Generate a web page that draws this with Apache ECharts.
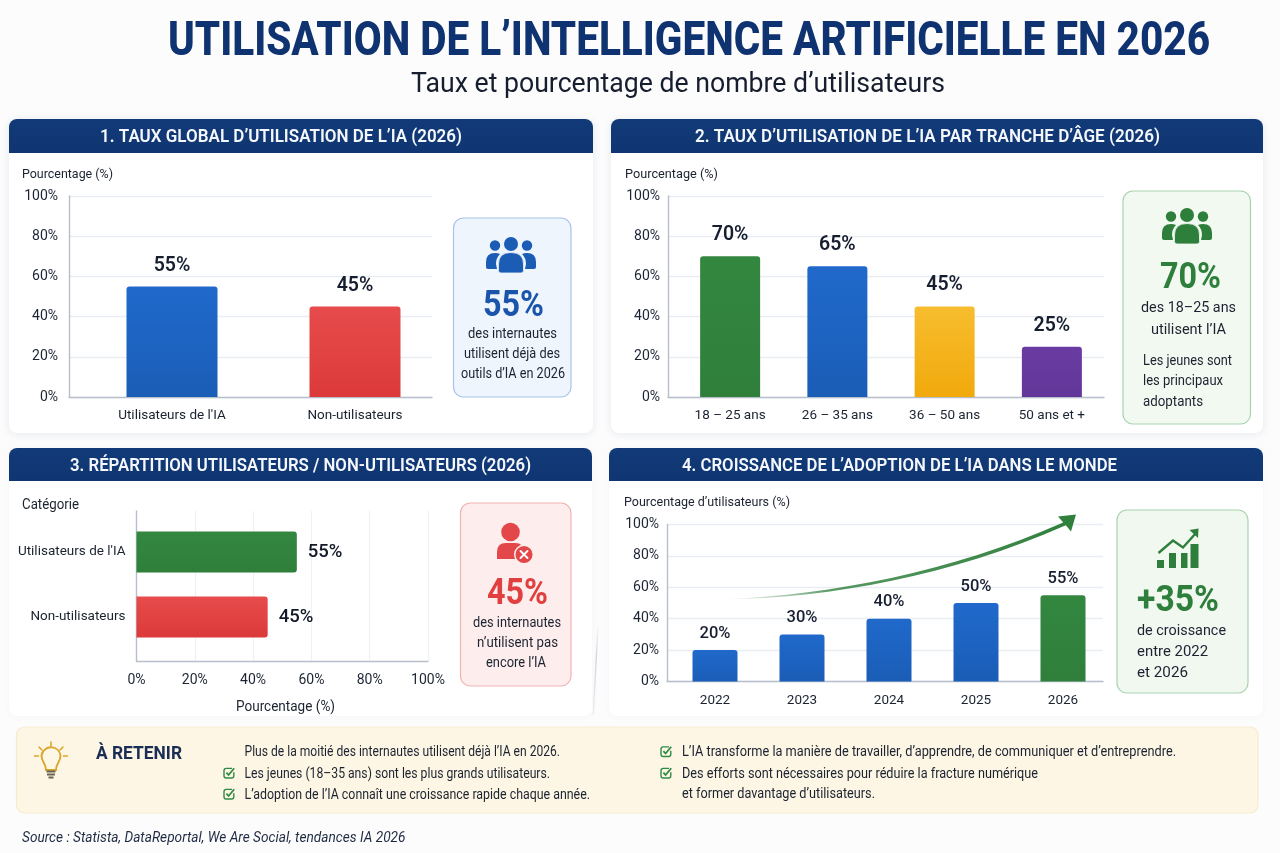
<!DOCTYPE html>
<html lang="fr">
<head>
<meta charset="utf-8">
<title>Utilisation de l'intelligence artificielle en 2026</title>
<script src="https://cdn.jsdelivr.net/npm/echarts@6/dist/echarts.min.js"></script>
<style>
  html, body { margin: 0; padding: 0; background: #fcfcfd; }
  #board { width: 1280px; height: 853px; }
</style>
</head>
<body>
<div id="board"></div>
<script>
// Panel 1: overall usage
const globalCategories = ["Utilisateurs de l'IA", "Non-utilisateurs"];
const globalValues = [55, 45];
// Panel 2: usage by age group
const ageCategories = ["18 – 25 ans", "26 – 35 ans", "36 – 50 ans", "50 ans et +"];
const ageValues = [70, 65, 45, 25];
// Panel 3: users / non-users split
const splitCategories = ["Utilisateurs de l'IA", "Non-utilisateurs"];
const splitValues = [55, 45];
// Panel 4: worldwide growth
const growthYears = ["2022", "2023", "2024", "2025", "2026"];
const growthValues = [20, 30, 40, 50, 55];

const FONT = "Roboto, 'Noto Sans', sans-serif";
const NAVY = "#0f3270";
const INK = "#161e30";
const BODY = "#1b2230";
const BLUE = ["#2069cb", "#1a5db6"];
const RED = ["#e74b4b", "#dc3a3a"];
const GREEN = ["#33873f", "#2f7f3b"];
const AMBER = ["#f7bd2e", "#f1a90c"];
const PURPLE = ["#6a3ca3", "#623699"];

const ruler = document.createElement("canvas").getContext("2d");
const graphics = [];
const grids = [], xAxes = [], yAxes = [], series = [];

function vGrad(pair) {
  return new echarts.graphic.LinearGradient(0, 0, 0, 1, [
    { offset: 0, color: pair[0] }, { offset: 1, color: pair[1] }
  ]);
}

// Registers an SVG path string as a shape usable in the graphic component
let shapeCount = 0;
function svgPath(d, style, extra) {
  const name = "svgShape" + shapeCount++;
  echarts.graphic.registerShape(name, echarts.graphic.extendPath(d));
  return { type: name, style, silent: true, ...(extra || {}) };
}

// Text fitted to a left/right extent, y being the centre of its capitals
function fitText(text, x0, x1, y, size, weight, fill, italic) {
  const font = `${italic ? "italic " : ""}${weight} ${size}px ${FONT}`;
  ruler.font = font;
  const w = ruler.measureText(text).width;
  graphics.push({
    type: "text", x: x0, y: y + size * 0.1, scaleX: (x1 - x0) / w, silent: true, z: 6,
    style: { text, font, fill, textAlign: "left", textVerticalAlign: "middle" }
  });
}

function card(x, y, w, h, headerH, title, tx0, tx1, shadowAlpha) {
  graphics.push({
    type: "rect", z: -1, silent: true,
    shape: { x, y, width: w, height: h, r: 8 },
    style: { fill: "#ffffff", shadowBlur: 9, shadowColor: `rgba(40,60,100,${shadowAlpha})`, shadowOffsetY: 1 }
  });
  graphics.push({
    type: "rect", z: -1, silent: true,
    shape: { x, y, width: w, height: headerH, r: [8, 8, 0, 0] },
    style: { fill: new echarts.graphic.LinearGradient(0, 0, 0, 1, [
      { offset: 0, color: "#123a78" }, { offset: 1, color: "#0f3672" }
    ]) }
  });
  fitText(title, tx0, tx1, y + headerH / 2 - 0.5, 19, 600, "#f4f7fb");
}

function callout(x, y, w, h, fill, stroke) {
  graphics.push({
    type: "rect", z: -1, silent: true,
    shape: { x, y, width: w, height: h, r: 10 },
    style: { fill, stroke, lineWidth: 1.2 }
  });
}

// Three-person pictogram; local origin is the top centre of the group
function peopleIcon(cx, top, scale, color, halo) {
  graphics.push({
    type: "group", x: cx, y: top, scaleX: scale, scaleY: scale, silent: true,
    children: [
      { type: "circle", shape: { cx: -16, cy: 8.5, r: 5.2 }, style: { fill: color } },
      { type: "circle", shape: { cx: 16, cy: 8.5, r: 5.2 }, style: { fill: color } },
      svgPath("M-14 32 H-23 Q-25 32 -25 30 V25 Q-25 16 -16 16 Q-13 16 -11 17 Q-15 21 -15 27 Z", { fill: color }),
      svgPath("M14 32 H23 Q25 32 25 30 V25 Q25 16 16 16 Q13 16 11 17 Q15 21 15 27 Z", { fill: color }),
      { type: "circle", shape: { cx: 0, cy: 7, r: 7 }, style: { fill: color } },
      svgPath("M-10 36 Q-12.5 36 -12.5 33.5 V27 Q-12.5 15.5 0 15.5 Q12.5 15.5 12.5 27 V33.5 Q12.5 36 10 36 Z", { fill: color, stroke: halo, lineWidth: 0.8 })
    ]
  });
}

function userCrossIcon(color, halo) {
  graphics.push({
    type: "group", silent: true,
    children: [
      { type: "circle", shape: { cx: 510.5, cy: 532, r: 9.3 }, style: { fill: color } },
      svgPath("M497 559 V552 Q497 543 506 543 H515 Q524 543 524 552 V559 Z", { fill: color }),
      { type: "circle", shape: { cx: 524, cy: 554.5, r: 9.3 }, style: { fill: color, stroke: halo, lineWidth: 1.5 } },
      svgPath("M520.5 551 L527.5 558 M527.5 551 L520.5 558", { fill: null, stroke: "#ffffff", lineWidth: 1.9, lineCap: "round" })
    ]
  });
}

function growthIcon(color) {
  const bars = [[1157, 560, 7], [1169, 553, 7], [1181, 553, 6.5], [1190.5, 544, 8]];
  graphics.push({
    type: "group", silent: true,
    children: bars.map(b => ({
      type: "rect", shape: { x: b[0], y: b[1], width: b[2], height: 568 - b[1] }, style: { fill: color }
    })).concat([
      svgPath("M1158.5 553 L1173 540.5 L1183 547.5 L1196 533", { fill: null, stroke: color, lineWidth: 2.4 }),
      svgPath("M1189.5 530 L1198.5 528.5 L1198 538 Z", { fill: color })
    ])
  });
}

function bulbIcon() {
  const gold = "#dba62c";
  graphics.push({
    type: "group", silent: true,
    children: [
      svgPath("M46 770 C46 763 41.5 762 41.5 755.5 A9.6 9.6 0 0 1 60.5 755.5 C60.5 762 56 763 56 770 Z", { fill: "#fdf7e6", stroke: gold, lineWidth: 1.9 }),
      svgPath("M51 742 V746 M39 747 L42 750 M63 747 L60 750 M34.5 756 H38.5 M63.5 756 H67.5", { fill: null, stroke: gold, lineWidth: 1.6, lineCap: "round" }),
      svgPath("M46.5 771.5 H55.5 M47 774.5 H55 M48.5 777.5 H53.5", { fill: null, stroke: "#6a6350", lineWidth: 2 })
    ]
  });
}

function checkIcon(x, y) {
  const green = "#2f8a46";
  graphics.push({
    type: "group", x, y, silent: true,
    children: [
      svgPath("M3 -4.6 H-2.8 Q-5 -4.6 -5 -2.4 V2.8 Q-5 5 -2.8 5 H2.6 Q4.8 5 4.8 2.8 V-0.8", { fill: null, stroke: green, lineWidth: 1.4 }),
      svgPath("M-2.6 -0.4 L-0.4 2 L5.2 -4.8", { fill: null, stroke: green, lineWidth: 1.8 })
    ]
  });
}

const valueTicks = {
  type: "value", min: 0, max: 100, interval: 20
};
const tickFont = { fontFamily: FONT, fontSize: 14, color: "#1d2433" };
const catFont = { fontFamily: FONT, fontSize: 13.5, color: "#1b2230" };
const axisStroke = { show: true, lineStyle: { color: "#b7bfca", width: 1.4 } };

function barItems(values, colours) {
  return values.map((v, i) => ({ value: v, itemStyle: { color: vGrad(colours[i]) } }));
}

// Column chart. The frame grid carries the scale and rules; the band grid
// lines the columns and their category labels up under the same value range.
function columns(o) {
  const g0 = grids.length;
  const geo = { top: o.top, height: o.bottom - o.top };
  grids.push({ left: o.left, width: o.right - o.left, ...geo });
  grids.push({ left: o.bandLeft, width: o.bandRight - o.bandLeft, ...geo });
  xAxes.push({
    gridIndex: g0, type: "category", data: o.categories,
    axisLine: axisStroke, axisTick: { show: false }, axisLabel: { show: false }
  });
  yAxes.push({
    ...valueTicks, gridIndex: g0,
    axisLine: axisStroke, axisTick: { show: false },
    axisLabel: { ...tickFont, margin: o.tickMargin, formatter: "{value}%" },
    splitLine: { lineStyle: { color: "#e9edf2", width: 1.3 } }
  });
  xAxes.push({
    gridIndex: g0 + 1, type: "category", data: o.categories,
    axisLine: { show: false }, axisTick: { show: false },
    axisLabel: { ...catFont, margin: 12, interval: 0 }
  });
  yAxes.push({ ...valueTicks, gridIndex: g0 + 1, show: false });
  series.push({
    type: "bar", xAxisIndex: g0 + 1, yAxisIndex: g0 + 1, z: 3,
    barWidth: o.barWidth, itemStyle: { borderRadius: [3, 3, 0, 0] },
    data: barItems(o.values, o.colours),
    label: {
      show: true, position: "top", distance: o.labelDistance, formatter: "{c}%",
      fontFamily: FONT, fontSize: o.labelSize, fontWeight: o.labelWeight, color: INK
    }
  });
}

// Horizontal bar chart built the same way, with the bands on the vertical axis.
function rows(o) {
  const g0 = grids.length;
  const geo = { left: o.left, width: o.right - o.left };
  grids.push({ top: o.top, height: o.bottom - o.top, ...geo });
  grids.push({ top: o.bandTop, height: o.bandBottom - o.bandTop, ...geo });
  yAxes.push({
    gridIndex: g0, type: "category", data: o.categories, inverse: true,
    axisLine: axisStroke, axisTick: { show: false }, axisLabel: { show: false }
  });
  xAxes.push({
    ...valueTicks, gridIndex: g0,
    axisLine: axisStroke, axisTick: { show: false },
    axisLabel: { ...tickFont, margin: 12, formatter: "{value}%" },
    splitLine: { lineStyle: { color: "#eef0f3", width: 1.2 } }
  });
  yAxes.push({
    gridIndex: g0 + 1, type: "category", data: o.categories, inverse: true,
    axisLine: { show: false }, axisTick: { show: false },
    axisLabel: { ...catFont, margin: 11, interval: 0 }
  });
  xAxes.push({ ...valueTicks, gridIndex: g0 + 1, show: false });
  series.push({
    type: "bar", xAxisIndex: g0 + 1, yAxisIndex: g0 + 1, z: 3,
    barWidth: o.barWidth, itemStyle: { borderRadius: [0, 3, 3, 0] },
    data: barItems(o.values, o.colours),
    label: {
      show: true, position: "right", distance: 11, formatter: "{c}%",
      fontFamily: FONT, fontSize: 18.5, fontWeight: 500, color: "#121826"
    }
  });
}

/* ---------- header ---------- */
fitText("UTILISATION DE L’INTELLIGENCE ARTIFICIELLE EN 2026", 168, 1210, 37.5, 49, 800, NAVY);
fitText("Taux et pourcentage de nombre d’utilisateurs", 411, 945, 82.5, 27, 400, "#161d2e");

/* ---------- panels ---------- */
card(9, 119, 584, 314, 34, "1. TAUX GLOBAL D’UTILISATION DE L’IA (2026)", 100, 462, 0.10);
card(611, 119, 652, 314, 34, "2. TAUX D’UTILISATION DE L’IA PAR TRANCHE D’ÂGE (2026)", 695, 1160, 0.10);
card(9, 448, 583, 268, 33, "3. RÉPARTITION UTILISATEURS / NON-UTILISATEURS (2026)", 70, 531, 0.03);
card(609, 448, 654, 268, 33, "4. CROISSANCE DE L’ADOPTION DE L’IA DANS LE MONDE", 682, 1117, 0.03);

// Thin divider that fades out along the right of panel 3
graphics.push(svgPath("M598 625 L593.3 715", {
  fill: null, lineWidth: 1.4,
  stroke: new echarts.graphic.LinearGradient(0, 0, 0, 1, [
    { offset: 0, color: "rgba(205,210,216,0)" },
    { offset: 0.35, color: "rgba(205,210,216,0.9)" },
    { offset: 1, color: "rgba(205,210,216,0.3)" }
  ])
}));

fitText("Pourcentage (%)", 22, 113, 173.5, 13.5, 400, BODY);
fitText("Pourcentage (%)", 625, 718, 173.5, 13.5, 400, BODY);
fitText("Catégorie", 22, 79, 504.5, 14, 400, BODY);
fitText("Pourcentage d’utilisateurs (%)", 624, 790, 501.5, 13.5, 400, BODY);
fitText("Pourcentage (%)", 236, 335, 706, 14.5, 400, BODY);

columns({
  left: 69, right: 432, top: 196, bottom: 397, bandLeft: 80.5, bandRight: 446.5, tickMargin: 11,
  categories: globalCategories, values: globalValues, colours: [BLUE, RED],
  barWidth: 91, labelDistance: 10, labelSize: 19.5, labelWeight: 600
});
columns({
  left: 668, right: 1104, top: 196, bottom: 397, bandLeft: 676.5, bandRight: 1105.5, tickMargin: 8,
  categories: ageCategories, values: ageValues, colours: [GREEN, BLUE, AMBER, PURPLE],
  barWidth: 60, labelDistance: 11, labelSize: 19.5, labelWeight: 600
});
rows({
  left: 136.5, right: 428, top: 511, bottom: 661, bandTop: 519.5, bandBottom: 649.5,
  categories: splitCategories, values: splitValues, colours: [GREEN, RED], barWidth: 41
});
columns({
  left: 667, right: 1103, top: 524.5, bottom: 681.5, bandLeft: 671.5, bandRight: 1106.5, tickMargin: 8,
  categories: growthYears, values: growthValues,
  colours: [BLUE, BLUE, BLUE, BLUE, GREEN], barWidth: 45,
  labelDistance: 8, labelSize: 16.5, labelWeight: 500
});

/* ---------- callouts ---------- */
callout(453.5, 218, 117.5, 179, "#eff5fd", "#a8c3ea");
peopleIcon(511, 237, 1, "#1b5cb4", "#eff5fd");
fitText("55%", 483, 544, 303, 37, 700, "#1a55ab");
fitText("des internautes", 468, 557, 333, 14, 400, BODY);
fitText("utilisent déjà des", 464, 560, 353, 14, 400, BODY);
fitText("outils d’IA en 2026", 461, 565, 373, 14, 400, BODY);

callout(1123, 191, 127.5, 233, "#f2f9f1", "#a9d3af");
peopleIcon(1187, 208, 1, "#2f7f3c", "#f2f9f1");
fitText("70%", 1160, 1221, 275, 37, 700, "#2f7f3c");
fitText("des 18–25 ans", 1141, 1236, 307, 15, 400, BODY);
fitText("utilisent l’IA", 1151, 1226, 329, 15, 400, BODY);
fitText("Les jeunes sont", 1143, 1232, 360, 14, 400, BODY);
fitText("les principaux", 1143, 1223, 380.5, 14, 400, BODY);
fitText("adoptants", 1143, 1203, 401, 14, 400, BODY);

callout(460.5, 503, 110.5, 183, "#fdeeed", "#f0b3b1");
userCrossIcon("#e3474a", "#fdeeed");
fitText("45%", 487, 548, 591, 37, 700, "#e0403f");
fitText("des internautes", 473, 561, 622, 14, 400, BODY);
fitText("n’utilisent pas", 477, 558, 642, 14, 400, BODY);
fitText("encore l’IA", 486, 546, 662.5, 14, 400, BODY);

callout(1117, 510, 131, 183, "#f1f8f0", "#a9d3af");
growthIcon("#2f7f3c");
fitText("+35%", 1137, 1219, 598, 37, 700, "#2f7f3c");
fitText("de croissance", 1137, 1226, 630, 15, 400, BODY);
fitText("entre 2022", 1137, 1208, 651, 15, 400, BODY);
fitText("et 2026", 1137, 1188, 671.5, 15, 400, BODY);

/* ---------- rising trend arrow over panel 4 ---------- */
graphics.push(svgPath(
  "M728 599 C830 594.5 950 572.5 1063.2 522.4 L1058 516.5 L1076 514.5 L1071 531.5 L1065.8 525.3 C950 576.5 830 597.5 728 599.4 Z",
  { fill: new echarts.graphic.LinearGradient(0, 0, 1, 0, [
    { offset: 0, color: "rgba(47,127,60,0)" },
    { offset: 0.3, color: "rgba(47,127,60,0.8)" },
    { offset: 1, color: "#2f7f3c" }
  ]) },
  { z: 5 }
));

/* ---------- key takeaways ---------- */
graphics.push({
  type: "rect", z: -1, silent: true,
  shape: { x: 16.5, y: 727, width: 1241.5, height: 86, r: 8 },
  style: { fill: "#fdf6e4", stroke: "#f6ebcd", lineWidth: 1.2 }
});
bulbIcon();
fitText("À RETENIR", 96, 182, 752.5, 18, 700, "#1a2d55");
fitText("Plus de la moitié des internautes utilisent déjà l’IA en 2026.", 244.5, 560, 751.5, 14, 400, BODY);
fitText("Les jeunes (18–35 ans) sont les plus grands utilisateurs.", 244.5, 550, 773, 14, 400, BODY);
fitText("L’adoption de l’IA connaît une croissance rapide chaque année.", 244.5, 590, 794, 14, 400, BODY);
fitText("L’IA transforme la manière de travailler, d’apprendre, de communiquer et d’entreprendre.", 682, 1176, 751.5, 14, 400, BODY);
fitText("Des efforts sont nécessaires pour réduire la fracture numérique", 682, 1038, 773, 14, 400, BODY);
fitText("et former davantage d’utilisateurs.", 682, 875, 793, 14, 400, BODY);
checkIcon(229, 773);
checkIcon(229, 794);
checkIcon(666, 751.5);
checkIcon(666, 773);

fitText("Source : Statista, DataReportal, We Are Social, tendances IA 2026", 22, 405.5, 837, 14, 400, "#1f2b42", true);

const chart = echarts.init(document.getElementById("board"), null, { width: 1280, height: 853 });
chart.setOption({
  animation: false,
  backgroundColor: "#fcfcfd",
  grid: grids,
  xAxis: xAxes,
  yAxis: yAxes,
  series,
  graphic: { elements: graphics }
});
</script>
</body>
</html>
